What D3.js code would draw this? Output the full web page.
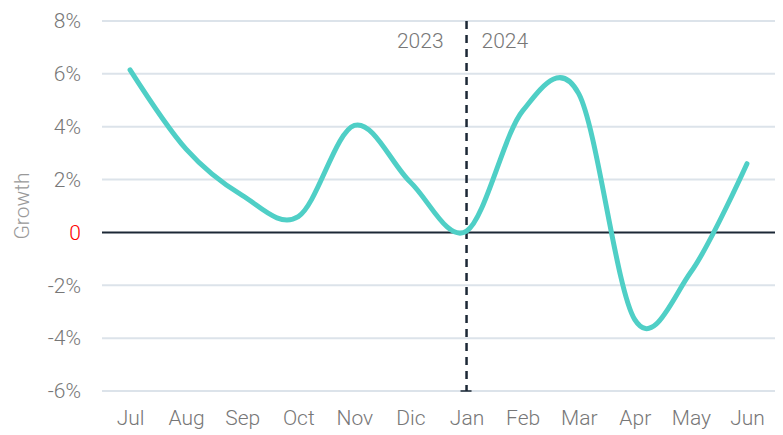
<!DOCTYPE html>
<html>
<head>
<meta charset="utf-8">
<script src="https://cdn.jsdelivr.net/npm/d3@7"></script>
<style>
  body { margin: 0; background: #fff; }
  svg text { font-family: Roboto, "Open Sans", sans-serif; font-weight: 300; }
</style>
</head>
<body>
<svg id="chart"></svg>
<script>
// data
const months = ["Jul", "Aug", "Sep", "Oct", "Nov", "Dic", "Jan", "Feb", "Mar", "Apr", "May", "Jun"];
const growth = [6.15, 3.15, 1.4, 0.6, 4.05, 1.9, 0.05, 4.6, 5.25, -3.3, -1.5, 2.6];
const yTicks = [-6, -4, -2, 0, 2, 4, 6, 8];
const yearLabels = ["2023", "2024"];
const splitMonth = "Jan";

const svgWidth = 783, svgHeight = 435;
const margin = { top: 21, right: 8, bottom: 44, left: 102 };
const width = svgWidth - margin.left - margin.right;
const height = svgHeight - margin.top - margin.bottom;

const svg = d3.select("#chart")
  .attr("width", svgWidth)
  .attr("height", svgHeight)
  .append("g")
  .attr("transform", `translate(${margin.left},${margin.top})`);

const x = d3.scalePoint()
  .domain(months)
  .range([0, width])
  .padding(0.5);

const y = d3.scaleLinear()
  .domain([-6, 8])
  .range([height, 0]);

// gridlines
svg.append("g")
  .selectAll("line")
  .data(yTicks.filter(d => d !== 0))
  .enter()
  .append("line")
  .attr("x1", 0)
  .attr("x2", width)
  .attr("y1", d => y(d))
  .attr("y2", d => y(d))
  .style("stroke", "#dce3ea")
  .style("stroke-width", 2);

// zero line
svg.append("line")
  .attr("x1", 0)
  .attr("x2", width)
  .attr("y1", y(0))
  .attr("y2", y(0))
  .style("stroke", "#1c2836")
  .style("stroke-width", 2);

// y axis labels
const yAxis = svg.append("g")
  .attr("transform", "translate(-21,0)")
  .call(d3.axisLeft(y).tickValues(yTicks).tickSize(0).tickPadding(0)
    .tickFormat(d => d === 0 ? "0" : d + "%"));
yAxis.select(".domain").remove();
yAxis.selectAll("text")
  .style("font-size", "21px")
  .style("fill", d => d === 0 ? "#ff0000" : "#777");

// x axis labels
const xAxis = svg.append("g")
  .attr("transform", `translate(0,${height + 19})`)
  .call(d3.axisBottom(x).tickSize(0).tickPadding(0));
xAxis.select(".domain").remove();
xAxis.selectAll("text")
  .style("font-size", "21px")
  .style("fill", "#777");

// axis title
svg.append("text")
  .attr("transform", `translate(${-73},${y(1)}) rotate(-90)`)
  .attr("text-anchor", "middle")
  .style("font-size", "21px")
  .style("fill", "#999")
  .text("Growth");

// year divider
const xs = x(splitMonth);
svg.append("line")
  .attr("x1", xs)
  .attr("x2", xs)
  .attr("y1", y(8))
  .attr("y2", y(-6))
  .style("stroke", "#1c2836")
  .style("stroke-width", 2.5)
  .style("stroke-dasharray", "8,6");
svg.append("line")
  .attr("x1", xs - 6)
  .attr("x2", xs + 5)
  .attr("y1", y(-6))
  .attr("y2", y(-6))
  .style("stroke", "#1c2836")
  .style("stroke-width", 1.5);

svg.append("text")
  .attr("x", xs - 23)
  .attr("y", 27)
  .attr("text-anchor", "end")
  .style("font-size", "21px")
  .style("fill", "#777")
  .text(yearLabels[0]);
svg.append("text")
  .attr("x", xs + 15)
  .attr("y", 27)
  .attr("text-anchor", "start")
  .style("font-size", "21px")
  .style("fill", "#777")
  .text(yearLabels[1]);

// growth line
const line = d3.line()
  .x((d, i) => x(months[i]))
  .y(d => y(d))
  .curve(d3.curveCardinal.tension(0));

svg.append("path")
  .datum(growth)
  .attr("d", line)
  .style("fill", "none")
  .style("stroke", "#4fcfc6")
  .style("stroke-width", 5)
  .style("stroke-linecap", "round");
</script>
</body>
</html>
